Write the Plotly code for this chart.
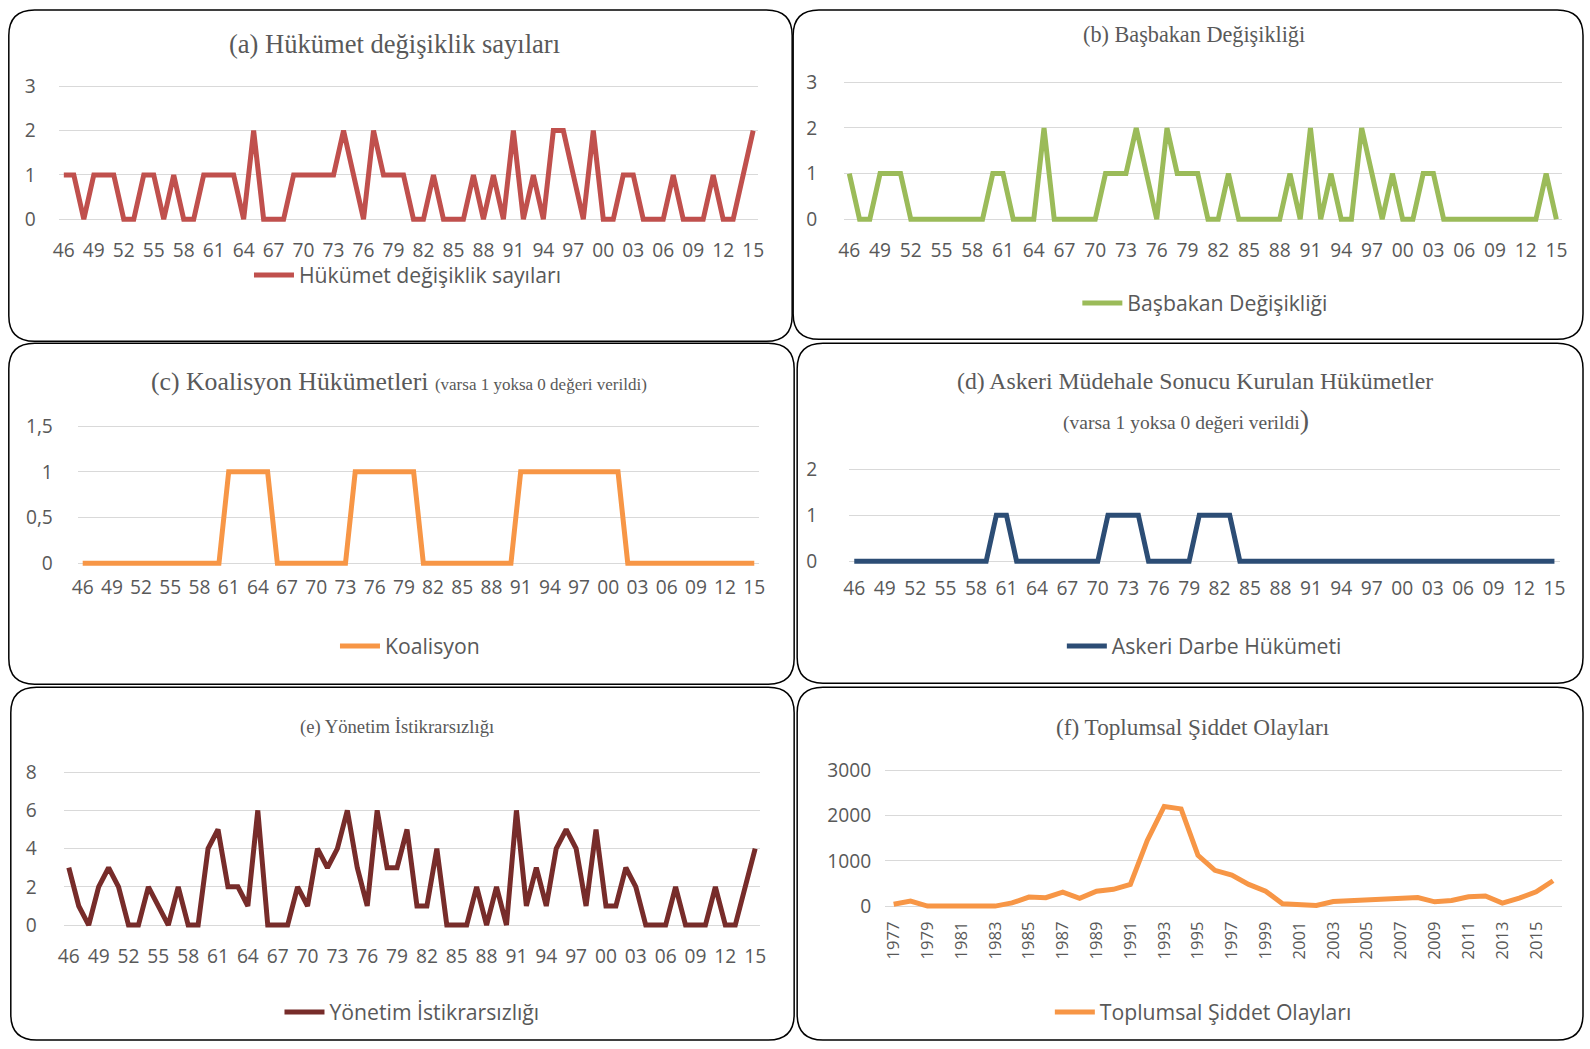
import plotly.graph_objects as go

W, H = 1590, 1049
# measured mapping of page pixels onto the returned picture (compensated below)
CX, SX = 5.2, 0.992
CY, SY = 7.7, 0.984
FS = 1.01  # font-size compensation

# ---------------- data ----------------
years_70 = list(range(1946, 2016))
ticks_70 = ["46", "49", "52", "55", "58", "61", "64", "67", "70", "73", "76", "79",
            "82", "85", "88", "91", "94", "97", "00", "03", "06", "09", "12", "15"]

hukumet = [1, 1, 0, 1, 1, 1, 0, 0, 1, 1,
           0, 1, 0, 0, 1, 1, 1, 1, 0, 2,
           0, 0, 0, 1, 1, 1, 1, 1, 2, 1,
           0, 2, 1, 1, 1, 0, 0, 1, 0, 0,
           0, 1, 0, 1, 0, 2, 0, 1, 0, 2,
           2, 1, 0, 2, 0, 0, 1, 1, 0, 0,
           0, 1, 0, 0, 0, 1, 0, 0, 1, 2]

basbakan = [1, 0, 0, 1, 1, 1, 0, 0, 0, 0,
            0, 0, 0, 0, 1, 1, 0, 0, 0, 2,
            0, 0, 0, 0, 0, 1, 1, 1, 2, 1,
            0, 2, 1, 1, 1, 0, 0, 1, 0, 0,
            0, 0, 0, 1, 0, 2, 0, 1, 0, 0,
            2, 1, 0, 1, 0, 0, 1, 1, 0, 0,
            0, 0, 0, 0, 0, 0, 0, 0, 1, 0]

koalisyon = [0, 0, 0, 0, 0, 0, 0, 0, 0, 0,
             0, 0, 0, 0, 0, 1, 1, 1, 1, 1,
             0, 0, 0, 0, 0, 0, 0, 0, 1, 1,
             1, 1, 1, 1, 1, 0, 0, 0, 0, 0,
             0, 0, 0, 0, 0, 1, 1, 1, 1, 1,
             1, 1, 1, 1, 1, 1, 0, 0, 0, 0,
             0, 0, 0, 0, 0, 0, 0, 0, 0, 0]

askeri = [0, 0, 0, 0, 0, 0, 0, 0, 0, 0,
          0, 0, 0, 0, 1, 1, 0, 0, 0, 0,
          0, 0, 0, 0, 0, 1, 1, 1, 1, 0,
          0, 0, 0, 0, 1, 1, 1, 1, 0, 0,
          0, 0, 0, 0, 0, 0, 0, 0, 0, 0,
          0, 0, 0, 0, 0, 0, 0, 0, 0, 0,
          0, 0, 0, 0, 0, 0, 0, 0, 0, 0]

yonetim = [3, 1, 0, 2, 3, 2, 0, 0, 2, 1,
           0, 2, 0, 0, 4, 5, 2, 2, 1, 6,
           0, 0, 0, 2, 1, 4, 3, 4, 6, 3,
           1, 6, 3, 3, 5, 1, 1, 4, 0, 0,
           0, 2, 0, 2, 0, 6, 1, 3, 1, 4,
           5, 4, 1, 5, 1, 1, 3, 2, 0, 0,
           0, 2, 0, 0, 0, 2, 0, 0, 2, 4]

years_f = list(range(1977, 2017))
ticks_f = ["1977", "1979", "1981", "1983", "1985", "1987", "1989", "1991", "1993", "1995",
           "1997", "1999", "2001", "2003", "2005", "2007", "2009", "2011", "2013", "2015"]
siddet = [40, 110, 0, 0, 0, 0, 0, 70, 200, 185,
          310, 170, 330, 370, 480, 1450, 2200, 2145, 1120, 790,
          685, 480, 330, 50, 30, 15, 100, 115, 140, 145,
          165, 190, 95, 125, 205, 225, 65, 175, 315, 560]

# ---------------- styling ----------------
GRID = "#D9D9D9"
TXT = "#595959"
SANS = "Open Sans"
SERIF = "Liberation Serif"
PAD = 5


def fxp(x):
    return (x - CX) / SX


def fyp(y):
    return (y - CY) / SY


def px(x):
    return min(max(fxp(x), 1), W - 1) / W


def py(y):
    return 1 - min(max(fyp(y), 1), H - 1) / H


panels = [
    dict(key="a", name="Hükümet değişiklik sayıları", y=hukumet, x=years_70, ticks=ticks_70, step=3,
         color="#C0504D", x0=58, x1=757, ytop=85, ybot=218, vmax=3,
         yt=[0, 1, 2, 3], ytt=["0", "1", "2", "3"], leg=(407, 274), ysd=22, xsd=13),
    dict(key="b", name="Başbakan Değişikliği", y=basbakan, x=years_70, ticks=ticks_70, step=3,
         color="#9BBB59", x0=843, x1=1560, ytop=81, ybot=218, vmax=3,
         yt=[0, 1, 2, 3], ytt=["0", "1", "2", "3"], leg=(1204, 302), ysd=26, xsd=13),
    dict(key="c", name="Koalisyon", y=koalisyon, x=years_70, ticks=ticks_70, step=3,
         color="#F79646", x0=77, x1=758, ytop=425, ybot=562, vmax=1.5,
         yt=[0, 0.5, 1, 1.5], ytt=["0", "0,5", "1", "1,5"], leg=(409, 645), ysd=24, xsd=6),
    dict(key="d", name="Askeri Darbe Hükümeti", y=askeri, x=years_70, ticks=ticks_70, step=3,
         color="#2C4D75", x0=848, x1=1558, ytop=468, ybot=560, vmax=2,
         yt=[0, 1, 2], ytt=["0", "1", "2"], leg=(1203, 645), ysd=31, xsd=9),
    dict(key="e", name="Yönetim İstikrarsızlığı", y=yonetim, x=years_70, ticks=ticks_70, step=3,
         color="#772C2A", x0=63, x1=759, ytop=771, ybot=924, vmax=8,
         yt=[0, 2, 4, 6, 8], ytt=["0", "2", "4", "6", "8"], leg=(411, 1011), ysd=26, xsd=13),
    dict(key="f", name="Toplumsal Şiddet Olayları", y=siddet, x=years_f, ticks=ticks_f, step=2,
         color="#F79646", x0=884, x1=1560, ytop=769, ybot=905, vmax=3000,
         yt=[0, 1000, 2000, 3000], ytt=["0", "1000", "2000", "3000"], leg=(1202, 1011), ysd=13, xsd=6),
]

fig = go.Figure()
layout = dict(width=W, height=H, margin=dict(l=0, r=0, t=0, b=0),
              paper_bgcolor="white", plot_bgcolor="white", showlegend=True)

for k, p in enumerate(panels, start=1):
    sfx = "" if k == 1 else str(k)
    n = len(p["y"])
    idx = list(range(n))
    legname = "legend" if k == 1 else f"legend{k}"
    fig.add_trace(go.Scatter(
        x=idx, y=p["y"], mode="lines", name=p["name"],
        line=dict(color=p["color"], width=5, shape="linear"),
        xaxis=f"x{sfx}", yaxis=f"y{sfx}", legend=legname,
        customdata=p["x"], hovertemplate="%{customdata}: %{y}<extra></extra>",
    ))
    per = p["vmax"] / (p["ybot"] - p["ytop"])
    rotated = p["key"] == "f"
    layout[f"xaxis{sfx}"] = dict(
        domain=[px(p["x0"]), px(p["x1"])], range=[-0.5, n - 0.5],
        anchor=f"y{sfx}", showgrid=False, zeroline=False, showline=False, ticks="",
        tickvals=idx[::p["step"]], ticktext=p["ticks"],
        tickangle=-90 if rotated else 0,
        ticklabelstandoff=p["xsd"],
        tickfont=dict(family=SANS, size=(16.5 if rotated else 19) * FS, color=TXT),
    )
    layout[f"yaxis{sfx}"] = dict(
        domain=[py(p["ybot"] + PAD), py(p["ytop"] - PAD)],
        range=[-PAD * per, p["vmax"] + PAD * per],
        anchor=f"x{sfx}", showgrid=True, gridcolor=GRID, gridwidth=1.3,
        zeroline=False, showline=False, ticks="",
        tickvals=p["yt"], ticktext=p["ytt"], ticklabelstandoff=p["ysd"],
        tickfont=dict(family=SANS, size=19 * FS, color=TXT),
    )
    layout[legname] = dict(
        x=px(p["leg"][0]), y=py(p["leg"][1]), xanchor="center", yanchor="middle",
        orientation="h", bgcolor="rgba(0,0,0,0)",
        font=dict(family=SANS, size=21 * FS, color=TXT), itemwidth=40,
    )


def rounded(x0, y0, x1, y1, r):
    pts = [
        ("M", [(x0 + r, y0)]), ("L", [(x1 - r, y0)]), ("Q", [(x1, y0), (x1, y0 + r)]),
        ("L", [(x1, y1 - r)]), ("Q", [(x1, y1), (x1 - r, y1)]), ("L", [(x0 + r, y1)]),
        ("Q", [(x0, y1), (x0, y1 - r)]), ("L", [(x0, y0 + r)]), ("Q", [(x0, y0), (x0 + r, y0)]),
    ]
    s = ""
    for cmd, coords in pts:
        s += cmd + " " + " ".join(f"{a / W:.5f},{1 - b / H:.5f}" for a, b in coords) + " "
    return s + "Z"


boxes = [(8, 1, 791, 340), (792, 1, 1588, 338),
         (8, 342, 793, 683), (796, 342, 1588, 682),
         (10, 686, 793, 1046), (796, 686, 1588, 1046)]
shapes = []
for (x0, y0, x1, y1) in boxes:
    a0 = min(max(fxp(x0), 1), W - 1)
    a1 = min(max(fxp(x1), 1), W - 1)
    b0 = min(max(fyp(y0), 1), H - 1)
    b1 = min(max(fyp(y1), 1), H - 1)
    shapes.append(dict(type="path", xref="paper", yref="paper", path=rounded(a0, b0, a1, b1, 26),
                       line=dict(color="black", width=1.5), fillcolor="rgba(0,0,0,0)", layer="above"))
layout["shapes"] = shapes

titles = [
    ("(a) Hükümet değişiklik sayıları", 394, 43, 26.3),
    ("(b) Başbakan Değişikliği", 1193, 33, 22),
    ("(c) Koalisyon Hükümetleri <span style='font-size:17px'>(varsa 1 yoksa 0 değeri verildi)</span>", 398, 380, 25.5),
    ("(d) Askeri Müdehale Sonucu Kurulan Hükümetler", 1194, 380, 23.5),
    ("<span style='font-size:19.5px'>(varsa 1 yoksa 0 değeri verildi</span><span style='font-size:28px'>)</span>", 1185, 418, 19.5),
    ("(e) Yönetim İstikrarsızlığı", 396, 726, 18.5),
    ("(f) Toplumsal Şiddet Olayları", 1192, 726, 23),
]
layout["annotations"] = [
    dict(text=t, x=px(x), y=py(y), xref="paper", yref="paper", showarrow=False,
         xanchor="center", yanchor="middle", font=dict(family=SERIF, size=s * FS, color=TXT))
    for t, x, y, s in titles
]

fig.update_layout(**layout)
fig.write_html("out.html", config={"displayModeBar": False},
               post_script="document.body.style.margin='0px';")
